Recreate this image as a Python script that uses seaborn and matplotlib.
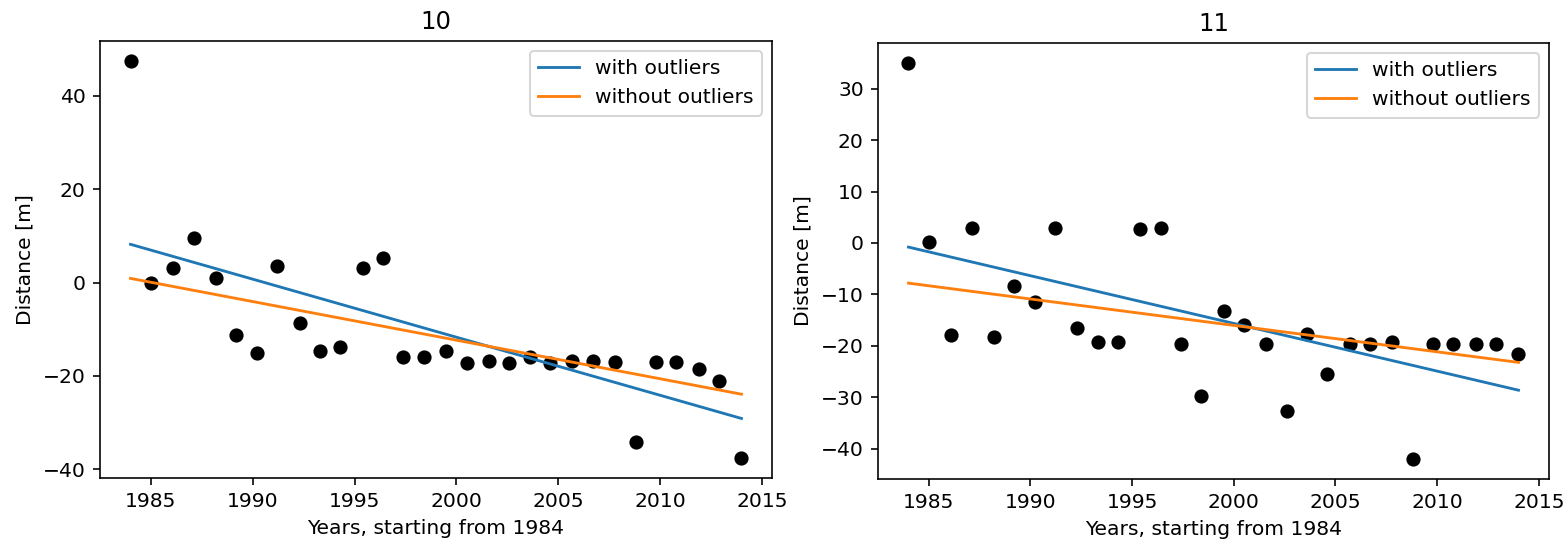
import numpy as np
import matplotlib
matplotlib.use("Agg")
import matplotlib.pyplot as plt
import seaborn as sns

# ---- data ----
years = [1984.0, 1985.0, 1986.1, 1987.1, 1988.2, 1989.2, 1990.2, 1991.2, 1992.3, 1993.3,
         1994.3, 1995.4, 1996.4, 1997.4, 1998.4, 1999.5, 2000.5, 2001.6, 2002.6, 2003.6,
         2004.6, 2005.7, 2006.7, 2007.8, 2008.8, 2009.8, 2010.8, 2011.9, 2012.9, 2014.0]

dist_10 = [47.5, 0.0, 3.1, 9.5, 0.9, -11.2, -15.1, 3.5, -8.6, -14.7,
           -13.9, 3.1, 5.3, -16.0, -16.0, -14.7, -17.3, -16.8, -17.3, -16.0,
           -17.3, -16.8, -16.8, -17.1, -34.2, -17.1, -17.1, -18.6, -21.0, -37.6]

dist_11 = [35.0, 0.2, -17.8, 3.0, -18.3, -8.3, -11.5, 3.0, -16.5, -19.2,
           -19.2, 2.7, 3.0, -19.6, -29.8, -13.3, -16.0, -19.6, -32.6, -17.6,
           -25.5, -19.6, -19.6, -19.3, -42.0, -19.6, -19.6, -19.6, -19.6, -21.6]

fit_years = [1984.0, 2014.0]
fit10_with = [8.2, -29.1]
fit10_without = [0.9, -23.9]
fit11_with = [-0.8, -28.6]
fit11_without = [-7.8, -23.2]

titles = ["10", "11"]
xlabel = "Years, starting from 1984"
ylabel = "Distance [m]"
labels = ["with outliers", "without outliers"]
xticks = [1985, 1990, 1995, 2000, 2005, 2010, 2015]
yticks_10 = [-40, -20, 0, 20, 40]
yticks_11 = [-40, -30, -20, -10, 0, 10, 20, 30]

# ---- figure ----
W, H, DPI = 1566, 542, 146
fig = plt.figure(figsize=(W / DPI, H / DPI), dpi=DPI)
ax1 = fig.add_axes([100 / W, 1 - 478 / H, 672 / W, 437 / H])
ax2 = fig.add_axes([878 / W, 1 - 479 / H, 671 / W, 436 / H])

panels = [
    (ax1, dist_10, fit10_with, fit10_without, yticks_10, titles[0]),
    (ax2, dist_11, fit11_with, fit11_without, yticks_11, titles[1]),
]

for ax, dist, fw, fwo, yt, title in panels:
    sns.scatterplot(x=years, y=dist, ax=ax, color="black", s=36, linewidth=1,
                    edgecolor="black", legend=False)
    sns.lineplot(x=fit_years, y=fw, ax=ax, color="tab:blue", label=labels[0], linewidth=1.4)
    sns.lineplot(x=fit_years, y=fwo, ax=ax, color="tab:orange", label=labels[1], linewidth=1.4)
    ax.set_title(title)
    ax.set_xlabel(xlabel)
    ax.set_ylabel(ylabel)
    ax.set_xticks(xticks)
    ax.set_yticks(yt)
    ax.set_xlim(1982.5, 2015.5)
    ax.legend(loc="upper right")

fig.savefig("out.png", dpi=DPI)
